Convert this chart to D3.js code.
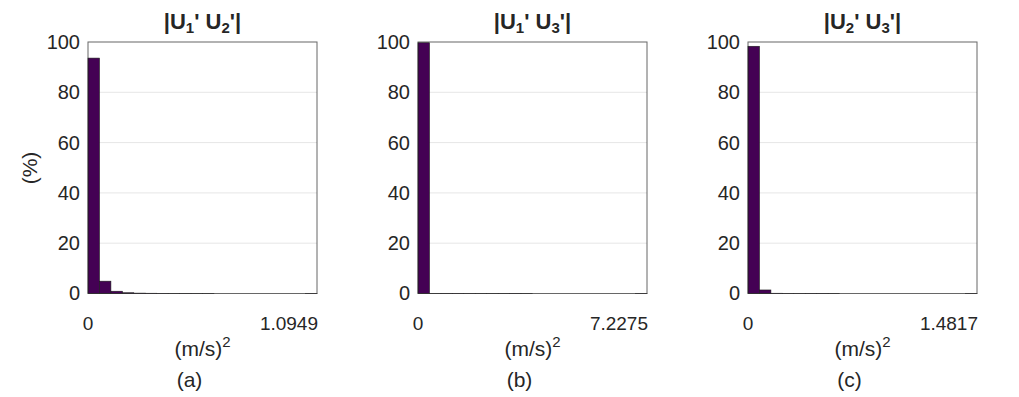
<!DOCTYPE html>
<html>
<head>
<meta charset="utf-8">
<script src="https://cdn.jsdelivr.net/npm/d3@7"></script>
<style>
  body { margin: 0; background: #fff; }
  text { font-family: "Liberation Sans", Arial, sans-serif; fill: #262626; }
</style>
</head>
<body>
<div id="chart"></div>
<script>
//Data (percent of samples per bin, 20 bins each)
var titlesA = ["U", "U", "U"];
var subs1 = ["1", "1", "2"];
var subs2 = ["2", "3", "3"];
var xMaxLabels = ["1.0949", "7.2275", "1.4817"];
var panelLetters = ["(a)", "(b)", "(c)"];
var yTicks = [0, 20, 40, 60, 80, 100];

var hist_U1U2 = [93.6, 4.9, 0.9, 0.3, 0.15, 0.1, 0.05, 0.03, 0.02, 0.01, 0.01, 0, 0, 0, 0, 0, 0, 0, 0, 0.02];
var hist_U1U3 = [99.7, 0.03, 0.08, 0.06, 0.02, 0.01, 0.01, 0.03, 0.05, 0.01, 0, 0, 0, 0, 0, 0, 0, 0, 0, 0.02];
var hist_U2U3 = [98.3, 1.4, 0.1, 0.04, 0.02, 0.05, 0.05, 0.01, 0, 0, 0, 0, 0, 0, 0, 0, 0, 0, 0, 0.02];
var allHists = [hist_U1U2, hist_U1U3, hist_U2U3];

//Setup
var W = 1019, H = 397;
var panelLeft = [88, 418, 748];
var panelW = 229;
var plotTop = 42, plotBottom = 293.5;
var barColor = "#440154";

var svg = d3.select("#chart").append("svg")
    .attr("width", W)
    .attr("height", H);

//y label
svg.append("text")
    .attr("transform", "translate(37, 168) rotate(-90)")
    .attr("text-anchor", "middle")
    .style("font-size", "21px")
    .text("(%)");

allHists.forEach(function (data, i) {
    var g = svg.append("g").attr("transform", `translate(${panelLeft[i]}, 0)`);

    var x = d3.scaleBand()
        .domain(d3.range(data.length))
        .range([0, panelW])
        .padding(0);
    var y = d3.scaleLinear().domain([0, 100]).range([plotBottom, plotTop]);

    //grid
    g.selectAll(".grid")
        .data(yTicks.slice(1, -1))
        .enter().append("line")
        .attr("x1", 0).attr("x2", panelW)
        .attr("y1", d => y(d)).attr("y2", d => y(d))
        .attr("stroke", "#e6e6e6")
        .attr("stroke-width", 1);

    //bars
    g.selectAll(".bar")
        .data(data)
        .enter().append("rect")
        .attr("x", (d, j) => x(j))
        .attr("y", d => y(d))
        .attr("width", x.bandwidth())
        .attr("height", d => plotBottom - y(d))
        .attr("fill", barColor)
        .attr("stroke", d => d > 0 ? "#1a1a1a" : "none")
        .attr("stroke-width", 0.6);

    //box
    g.append("rect")
        .attr("x", 0).attr("y", plotTop)
        .attr("width", panelW).attr("height", plotBottom - plotTop)
        .attr("fill", "none")
        .attr("stroke", "#262626")
        .attr("stroke-opacity", 0.7)
        .attr("stroke-width", 1);

    //y ticks
    var yAxis = d3.axisLeft(y).tickValues(yTicks).tickSize(0).tickPadding(8);
    var ya = g.append("g").call(yAxis);
    ya.select(".domain").remove();
    ya.selectAll("text")
        .style("font-size", "20px")
        .attr("font-family", "Liberation Sans, Arial, sans-serif")
        .attr("fill", "#262626");

    //x ticks
    g.append("text")
        .attr("x", 0).attr("y", plotBottom + 36)
        .attr("text-anchor", "middle")
        .style("font-size", "19px")
        .text("0");
    g.append("text")
        .attr("x", panelW + 1).attr("y", plotBottom + 36)
        .attr("text-anchor", "end")
        .style("font-size", "19px")
        .text(xMaxLabels[i]);

    //x label
    var xl = g.append("text")
        .attr("x", panelW / 2).attr("y", 356)
        .attr("text-anchor", "middle")
        .style("font-size", "21px");
    xl.append("tspan").text("(m/s)");
    xl.append("tspan").attr("dy", -9).style("font-size", "15px").text("2");

    //panel letter
    g.append("text")
        .attr("x", panelW / 2 - 13).attr("y", 387)
        .attr("text-anchor", "middle")
        .style("font-size", "21px")
        .text(panelLetters[i]);

    //title
    var t = g.append("text")
        .attr("x", panelW / 2).attr("y", 29)
        .attr("text-anchor", "middle")
        .style("font-size", "22px")
        .style("font-weight", "bold");
    t.append("tspan").text("|" + titlesA[i]);
    t.append("tspan").attr("dy", 4).style("font-size", "15px").text(subs1[i]);
    t.append("tspan").attr("dy", -4).text("' " + titlesA[i]);
    t.append("tspan").attr("dy", 4).style("font-size", "15px").text(subs2[i]);
    t.append("tspan").attr("dy", -4).text("'|");
});
</script>
</body>
</html>
